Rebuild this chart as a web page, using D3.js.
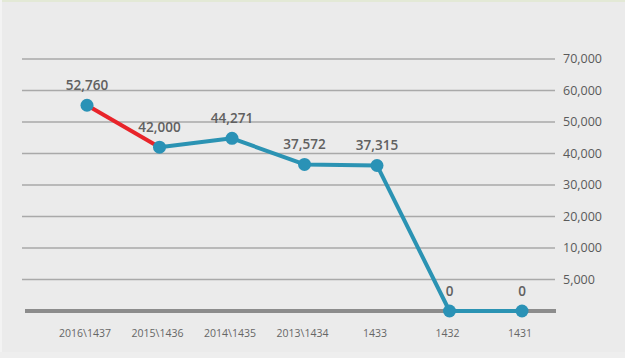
<!DOCTYPE html>
<html>
<head>
<meta charset="utf-8">
<script src="https://cdn.jsdelivr.net/npm/d3@7"></script>
<style>
  html, body { margin: 0; padding: 0; background: #ebebeb; }
  svg { display: block; }
  text { font-family: "Open Sans", "Noto Sans", sans-serif; }
</style>
</head>
<body>
<svg id="chart" width="625" height="358"></svg>
<script>
"use strict";

// Data
const years = ["2016\\1437", "2015\\1436", "2014\\1435", "2013\\1434", "1433", "1432", "1431"];
const values = [52760, 42000, 44271, 37572, 37315, 0, 0];
const valueLabels = ["52,760", "42,000", "44,271", "37,572", "37,315", "0", "0"];
const tickValues = [70000, 60000, 50000, 40000, 30000, 20000, 10000, 5000, 0];
const tickLabels = ["70,000", "60,000", "50,000", "40,000", "30,000", "20,000", "10,000", "5,000", ""];

const svg = d3.select("#chart");
const W = +svg.attr("width"), H = +svg.attr("height");

// background + thin frame
svg.append("rect").attr("width", W).attr("height", H).attr("fill", "#ebebeb");
svg.append("rect").attr("width", W).attr("height", 2).attr("fill", "#e3e9d6");
svg.append("rect").attr("width", 2).attr("height", H).attr("fill", "#f3f3f3");
svg.append("rect").attr("y", H - 6).attr("width", W).attr("height", 6).attr("fill", "#eeeeee");

const grid = { left: 22, right: 555 };

// grid rows are evenly spaced, labelled like a category axis
const yGrid = d3.scalePoint()
  .domain(tickValues)
  .range([59, 311]);

// value scale for the line
const y = d3.scaleLinear()
  .domain([0, 70000])
  .range([311, 38]);

const x = d3.scalePoint()
  .domain(years)
  .range([87, 522]);

const gridG = svg.append("g");
gridG.selectAll("line")
  .data(tickValues.filter(d => d !== 0))
  .enter()
  .append("line")
  .attr("x1", grid.left)
  .attr("x2", grid.right)
  .attr("y1", d => yGrid(d))
  .attr("y2", d => yGrid(d))
  .attr("stroke", "#a9a9a9")
  .attr("stroke-width", 1.6);

gridG.selectAll("text")
  .data(tickValues)
  .enter()
  .append("text")
  .attr("x", 563)
  .attr("y", d => yGrid(d))
  .attr("dy", "0.35em")
  .attr("font-size", 12.5)
  .attr("fill", "#5a5a5a")
  .text((d, i) => tickLabels[i]);

// baseline
svg.append("line")
  .attr("x1", grid.left + 3)
  .attr("x2", grid.right + 1)
  .attr("y1", yGrid(0))
  .attr("y2", yGrid(0))
  .attr("stroke", "#8c8c8c")
  .attr("stroke-width", 4);

// x labels
svg.append("g")
  .selectAll("text")
  .data(years)
  .enter()
  .append("text")
  .attr("x", d => x(d) - 2)
  .attr("y", 333)
  .attr("dy", "0.35em")
  .attr("text-anchor", "middle")
  .attr("font-size", 10.5)
  .attr("fill", "#666")
  .text(d => d);

const pts = years.map((d, i) => [x(d), y(values[i])]);
const line = d3.line();

// first segment red, the rest teal
svg.append("path")
  .attr("d", line(pts.slice(1)))
  .attr("fill", "none")
  .attr("stroke", "#2b93b3")
  .attr("stroke-width", 4)
  .attr("stroke-linejoin", "round");

svg.append("path")
  .attr("d", line(pts.slice(0, 2)))
  .attr("fill", "none")
  .attr("stroke", "#e8242a")
  .attr("stroke-width", 4);

svg.append("g")
  .selectAll("circle")
  .data(pts)
  .enter()
  .append("circle")
  .attr("cx", d => d[0])
  .attr("cy", d => d[1])
  .attr("r", 6.5)
  .attr("fill", "#2a92b6");

svg.append("g")
  .selectAll("text")
  .data(pts)
  .enter()
  .append("text")
  .attr("x", d => d[0])
  .attr("y", d => d[1] - 20)
  .attr("dy", "0.35em")
  .attr("text-anchor", "middle")
  .attr("font-size", 13.5)
  .attr("font-weight", 600)
  .attr("fill", "#606060")
  .text((d, i) => valueLabels[i]);
</script>
</body>
</html>
